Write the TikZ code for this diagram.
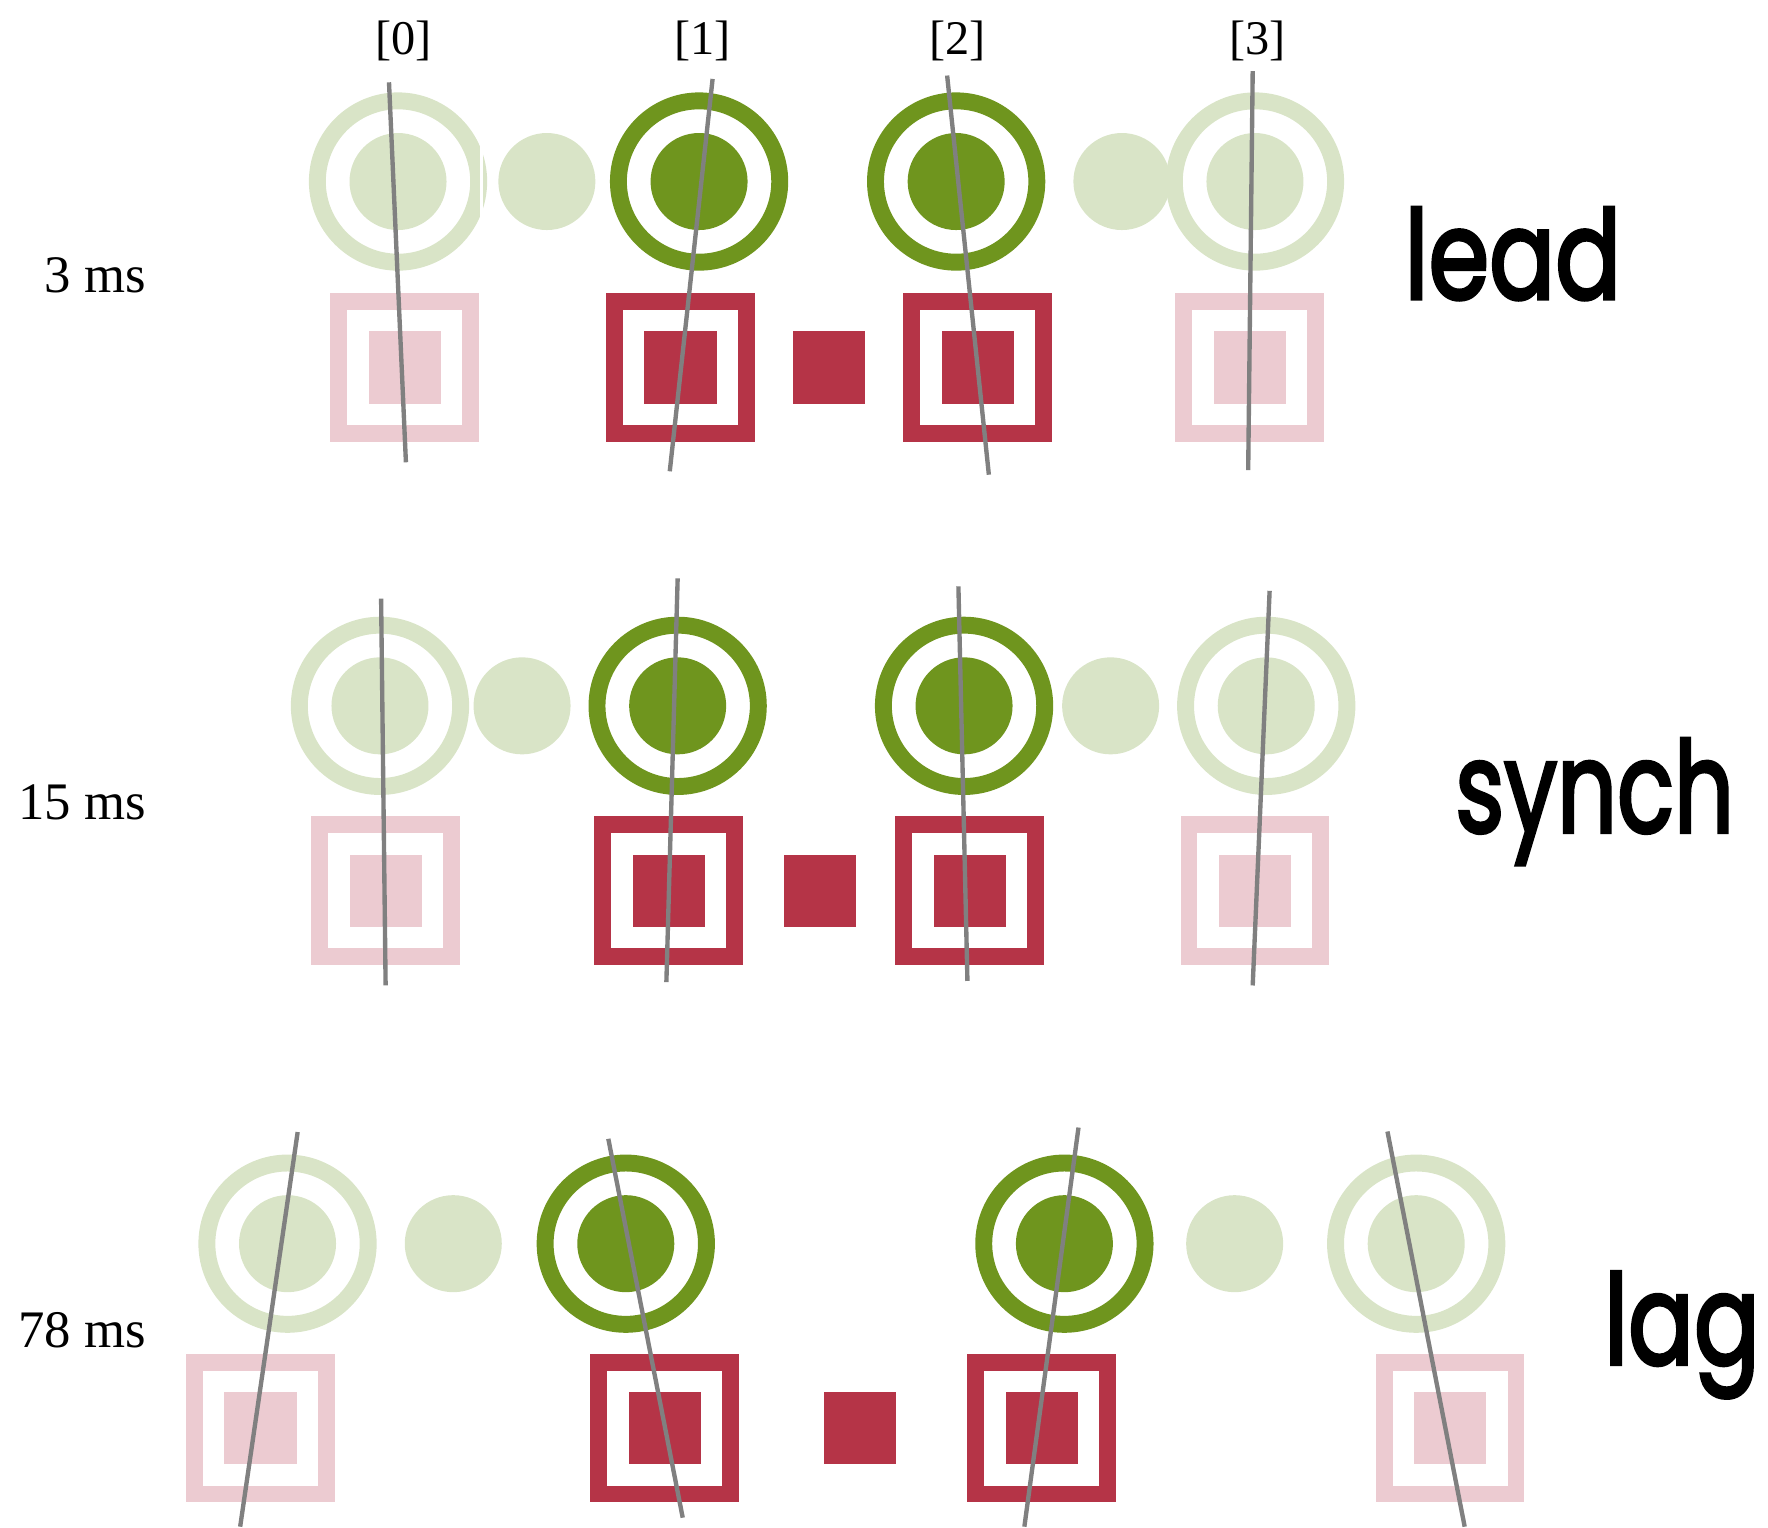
\documentclass[tikz,border=0pt]{standalone}
\usepackage{fontspec}
\setmainfont{Liberation Serif}
\newfontfamily\geofont{Poppins}[FakeBold=3]
\definecolor{dkgreen}{HTML}{6F951E}
\definecolor{ltgreen}{HTML}{D9E4C7}
\definecolor{dkred}{HTML}{B53447}
\definecolor{ltred}{HTML}{ECCBD1}
\definecolor{tickgray}{HTML}{808080}
\newcommand\tgt[3]{%
  \draw[ringline,draw=#3] (#1,#2) circle[radius=0.715cm];
  \fill[#3] (#1,#2) circle[radius=0.43cm];}
\newcommand\blob[3]{\fill[#3] (#1,#2) circle[radius=0.43cm];}
\newcommand\sqtgt[3]{%
  \draw[ringline,draw=#3] (#1-58.5,#2-58.5) rectangle (#1+58.5,#2+58.5);
  \fill[#3] (#1-32,#2-32) rectangle (#1+32,#2+32);}
\newcommand\sqblob[3]{\fill[#3] (#1-32,#2-32) rectangle (#1+32,#2+32);}
\newcommand\bigword[3]{\resizebox{#1cm}{#2cm}{\geofont #3}}
\begin{document}
\begin{tikzpicture}[x=0.01cm,y=-0.01cm,
  ringline/.style={line width=0.15cm},
  tickline/.style={tickgray,line width=1.1pt},
  idx/.style={font=\fontsize{12.2}{14}\selectfont,anchor=base,inner sep=0pt},
  ms/.style={font=\fontsize{13.3}{15}\selectfont,anchor=base east,inner sep=0pt},
  big/.style={anchor=base west,inner sep=0pt}]
\useasboundingbox (0,0) rectangle (1568,1355);
% ---------- row 1: lead ----------
\tgt{353}{161}{ltgreen}
\fill[white] (425.8,120) rectangle (428.2,200);
\blob{485}{161}{ltgreen}
\tgt{620}{161}{dkgreen}
\tgt{848}{161}{dkgreen}
\blob{995}{161}{ltgreen}
\tgt{1113}{161}{ltgreen}
\sqtgt{359}{326}{ltred}
\sqtgt{603.5}{326}{dkred}
\sqblob{735}{326}{dkred}
\sqtgt{867}{326}{dkred}
\sqtgt{1108.5}{326}{ltred}
\draw[tickline] (345,73) -- (360,410);
\draw[tickline] (632,70) -- (594,418);
\draw[tickline] (840,67) -- (877,421);
\draw[tickline] (1111,63) -- (1107,417);
% ---------- row 2: synch ----------
\tgt{337}{626}{ltgreen}
\blob{463}{626}{ltgreen}
\tgt{601}{626}{dkgreen}
\tgt{855}{626}{dkgreen}
\blob{985}{626}{ltgreen}
\tgt{1123}{626}{ltgreen}
\sqtgt{342}{790}{ltred}
\sqtgt{593}{790}{dkred}
\sqblob{727.5}{790}{dkred}
\sqtgt{860}{790}{dkred}
\sqtgt{1113}{790}{ltred}
\draw[tickline] (338,531) -- (342,874);
\draw[tickline] (601,513) -- (591,871);
\draw[tickline] (850,520) -- (858,870);
\draw[tickline] (1126,524) -- (1111,874);
% ---------- row 3: lag ----------
\tgt{255}{1103}{ltgreen}
\blob{402}{1103}{ltgreen}
\tgt{555}{1103}{dkgreen}
\tgt{944}{1103}{dkgreen}
\blob{1095}{1103}{ltgreen}
\tgt{1256}{1103}{ltgreen}
\sqtgt{231}{1266.5}{ltred}
\sqtgt{589.5}{1266.5}{dkred}
\sqblob{763}{1266.5}{dkred}
\sqtgt{924}{1266.5}{dkred}
\sqtgt{1286}{1266.5}{ltred}
\draw[tickline] (264,1004) -- (213,1354);
\draw[tickline] (539.5,1010) -- (605.5,1346);
\draw[tickline] (956.5,1000) -- (908.5,1354);
\draw[tickline] (1230.5,1003.5) -- (1299,1354);
% ---------- labels ----------
\node[idx] (i0) at (358,48) {[0]};
\node[idx] (i1) at (623,48) {[1]};
\node[idx] (i2) at (849,48) {[2]};
\node[idx] (i3) at (1115,48) {[3]};
\node[ms] (t1) at (130,259) {3 ms};
\node[ms] (t2) at (130,727) {15 ms};
\node[ms] (t3) at (130,1195) {78 ms};
\node[big] (lead) at (1245,265) {\bigword{1.92}{0.81}{lead}};
\node[big] (synch) at (1290,738) {\bigword{2.47}{0.83}{synch}};
\node[big] (lag) at (1422,1210) {\bigword{1.38}{0.82}{lag}};
\end{tikzpicture}
\end{document}
